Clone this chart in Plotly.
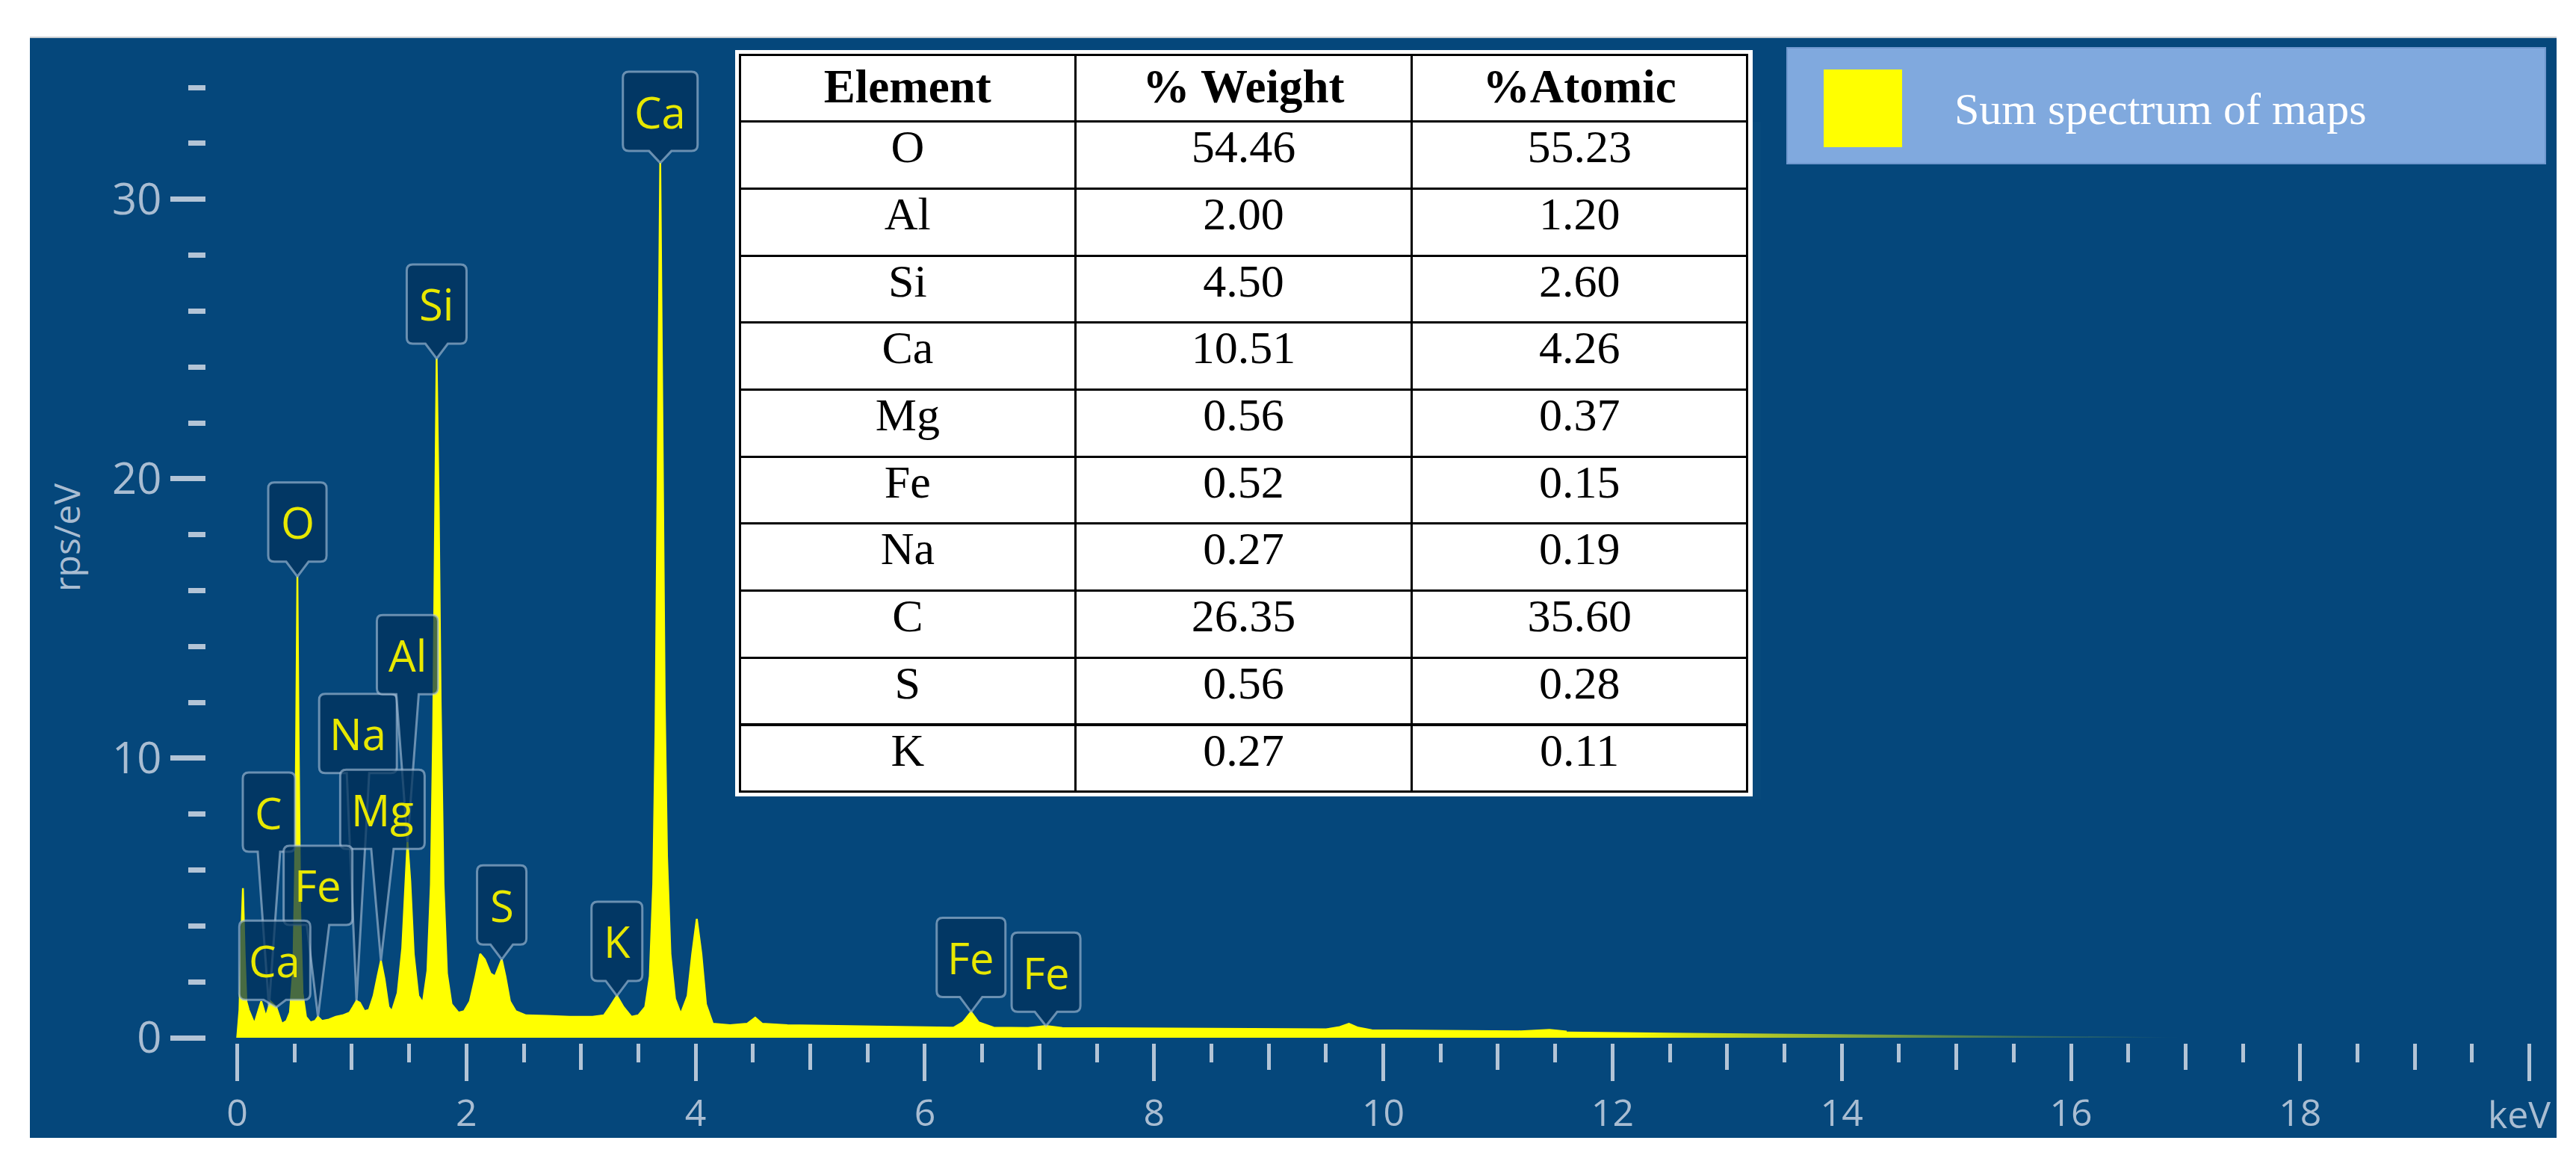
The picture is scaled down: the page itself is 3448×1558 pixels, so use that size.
import numpy as np
import plotly.graph_objects as go

# ---------------- data ----------------
energy_kev = [0.00, 0.02, 0.035, 0.05, 0.065, 0.08, 0.10, 0.15, 0.18, 0.21,
              0.25, 0.29, 0.34, 0.39, 0.43, 0.46, 0.49, 0.505, 0.515, 0.525,
              0.535, 0.55, 0.57, 0.60, 0.64, 0.68, 0.705, 0.74, 0.80, 0.86,
              0.92, 0.98, 1.01, 1.041, 1.07, 1.11, 1.15, 1.19, 1.225, 1.254,
              1.285, 1.32, 1.35, 1.40, 1.44, 1.47, 1.486, 1.51, 1.54, 1.58,
              1.62, 1.66, 1.69, 1.71, 1.725, 1.740, 1.758, 1.775, 1.80, 1.83,
              1.87, 1.93, 1.98, 2.03, 2.08, 2.12, 2.16, 2.21, 2.25, 2.29,
              2.308, 2.34, 2.38, 2.43, 2.52, 2.70, 2.90, 3.10, 3.20, 3.25,
              3.313, 3.37, 3.44, 3.50, 3.56, 3.60, 3.63, 3.65, 3.67, 3.691,
              3.71, 3.73, 3.75, 3.78, 3.82, 3.87, 3.93, 3.97, 4.01, 4.05,
              4.09, 4.15, 4.30, 4.45, 4.52, 4.58, 4.80, 5.20, 5.60, 6.00,
              6.25, 6.33, 6.403, 6.47, 6.60, 6.90, 7.057, 7.20, 7.60, 8.00,
              8.50, 9.00, 9.50, 9.62, 9.70, 9.78, 9.90, 10.50, 11.20, 11.45,
              11.60, 12.50, 13.50, 14.50, 15.50, 16.50, 17.00]
rps_per_ev = [0.0, 1.0, 3.5, 5.35, 3.0, 1.3, 1.0, 0.5, 0.9, 1.3,
              0.75, 1.3, 1.1, 0.5, 0.6, 0.9, 2.5, 6.0, 11.0, 16.5,
              11.0, 4.5, 1.6, 0.75, 0.55, 0.6, 0.75, 0.6, 0.65, 0.75,
              0.8, 0.9, 1.1, 1.32, 1.25, 0.95, 1.0, 1.5, 2.2, 2.75,
              2.1, 1.1, 0.95, 1.6, 3.2, 5.8, 7.0, 5.6, 3.0, 1.5,
              1.25, 2.4, 5.5, 11.0, 18.0, 24.3, 19.0, 12.0, 5.5, 2.3,
              1.2, 0.9, 0.95, 1.3, 2.2, 3.0, 2.8, 2.3, 2.2, 2.6,
              2.8, 2.2, 1.3, 0.95, 0.8, 0.78, 0.75, 0.75, 0.8, 1.1,
              1.5, 1.1, 0.75, 0.8, 1.1, 2.2, 5.5, 11.0, 20.0, 31.3,
              22.0, 12.0, 6.5, 3.0, 1.4, 0.85, 1.5, 3.0, 4.25, 3.0,
              1.2, 0.5, 0.45, 0.5, 0.72, 0.5, 0.45, 0.42, 0.40, 0.36,
              0.36, 0.55, 0.92, 0.55, 0.36, 0.35, 0.42, 0.35, 0.34, 0.33,
              0.32, 0.31, 0.30, 0.38, 0.50, 0.36, 0.27, 0.25, 0.23, 0.28,
              0.22, 0.18, 0.14, 0.10, 0.07, 0.04, 0.0]
assert len(energy_kev) == len(rps_per_ev)

callout_elements = ["C", "Na", "Al", "Mg", "Fe", "Ca", "O", "Si", "S", "K", "Ca", "Fe", "Fe"]
callout_energies = [0.277, 1.041, 1.486, 1.254, 0.705, 0.341, 0.525, 1.740, 2.308, 3.313, 3.691, 6.403, 7.057]

table_elements = ["O", "Al", "Si", "Ca", "Mg", "Fe", "Na", "C", "S", "K"]
weight_pct = [54.46, 2.00, 4.50, 10.51, 0.56, 0.52, 0.27, 26.35, 0.56, 0.27]
atomic_pct = [55.23, 1.20, 2.60, 4.26, 0.37, 0.15, 0.19, 35.60, 0.28, 0.11]
table_headers = ["Element", "% Weight", "%Atomic"]

x_major_ticks = [0, 2, 4, 6, 8, 10, 12, 14, 16, 18, 20]
x_tick_text = ["0", "2", "4", "6", "8", "10", "12", "14", "16", "18", ""]
y_major_ticks = [0, 10, 20, 30]
x_unit_label = "keV"
y_title = "rps/eV"
legend_label = "Sum spectrum of maps"

# ---------------- layout / style (pixels) ----------------
W, H = 3448, 1558
ML, MR, MT, MB = 268, 55, 53, 170
PW, PH = W - ML - MR, H - MT - MB
X_RANGE = [-0.2705, 20.1]
Y_RANGE = [-0.187, 35.5]
TAIL_START = 11.45   # energy where the faded tail of the fill begins

# per-callout (dx, dy above tip, box width) in px, same order as callout_elements
callout_layout = [(0, 207, 70), (2, 305, 104), (0, 198, 82), (2, 150, 113), (0, 123, 92),
                  (-2, 10, 95), (0, 20, 78), (0, 20, 80), (0, 20, 66), (0, 20, 68),
                  (0, 16, 100), (0, 20, 92), (0, 19, 92)]
BOX_H, BOX_R, PTR = 106, 8, 15

BG = "#05477b"
TICK = "#b3c4d6"
LABEL = "#a9bdd2"
SANS = "Open Sans"
SERIF = "Liberation Serif"


def fx(px):
    return (px - ML) / PW


def fy(py):
    return (H - MB - py) / PH


e_arr = np.array(energy_kev)
c_arr = np.array(rps_per_ev)
main_idx = e_arr <= 11.60
tail_idx = e_arr >= TAIL_START

fig = go.Figure()

fig.add_trace(go.Scatter(
    x=e_arr[main_idx], y=c_arr[main_idx], mode="lines", fill="tozeroy",
    line=dict(color="#ffff00", width=2.5), fillcolor="#ffff00",
    hoverinfo="skip", showlegend=False))

fig.add_trace(go.Scatter(
    x=e_arr[tail_idx], y=c_arr[tail_idx], mode="lines", fill="tozeroy",
    line=dict(color="rgba(0,0,0,0)", width=0),
    fillgradient=dict(type="horizontal", start=TAIL_START, stop=17,
                      colorscale=[[0, "rgb(255,255,0)"], [0.12, "rgb(255,255,0)"],
                                  [0.55, "rgba(215,230,20,0.5)"], [1, "rgba(150,190,60,0.0)"]]),
    hoverinfo="skip", showlegend=False))

# helper trace for the 1-keV intermediate ticks axis
fig.add_trace(go.Scatter(x=energy_kev[:1], y=rps_per_ev[:1], xaxis="x2", yaxis="y",
                         mode="markers", marker=dict(opacity=0), hoverinfo="skip",
                         showlegend=False))

fig.add_trace(go.Table(
    domain=dict(x=[fx(982), fx(2332)], y=[fy(1062), fy(65)]),
    columnwidth=[1, 1, 1],
    header=dict(values=["<b>%s</b>" % h for h in table_headers],
                fill_color="white", line=dict(color="black", width=3), align="center",
                font=dict(family=SERIF, size=63, color="black"), height=89.7),
    cells=dict(values=[table_elements,
                       ["%.2f" % v for v in weight_pct],
                       ["%.2f" % v for v in atomic_pct]],
               fill_color="white", line=dict(color="black", width=3), align="center",
               font=dict(family=SERIF, size=62, color="black"), height=89.7)))

shapes = [
    dict(type="rect", xref="paper", yref="paper", x0=fx(32), x1=fx(3414), y0=fy(1515), y1=fy(43),
         fillcolor=BG, line=dict(width=0), layer="below"),
    dict(type="line", xref="paper", yref="paper", x0=fx(32), x1=fx(3414), y0=fy(42), y1=fy(42),
         line=dict(color="#c8ccd0", width=2), layer="below"),
    dict(type="rect", xref="paper", yref="paper", x0=fx(976), x1=fx(2338), y0=fy(1058), y1=fy(59),
         fillcolor="white", line=dict(width=0), layer="below"),
    # legend
    dict(type="rect", xref="paper", yref="paper", x0=fx(2384), x1=fx(3399), y0=fy(211), y1=fy(56),
         fillcolor="#80a9de", line=dict(color="#6f98cf", width=2), layer="above"),
    dict(type="rect", xref="paper", yref="paper", x0=fx(2433), x1=fx(2538), y0=fy(189), y1=fy(85),
         fillcolor="#ffff00", line=dict(width=0), layer="above"),
]

annotations = [
    dict(xref="paper", yref="paper", x=fx(2606), y=fy(138), xanchor="left", yanchor="middle",
         text=legend_label, showarrow=False, font=dict(family=SERIF, size=60, color="white")),
    dict(xref="paper", yref="paper", x=fx(80), y=fy(712), xanchor="center", yanchor="middle",
         text=y_title, textangle=-90, showarrow=False, font=dict(family=SANS, size=48, color=LABEL)),
    dict(xref="x", yref="paper", x=20, y=fy(1483), xanchor="right", yanchor="middle", xshift=30,
         text=x_unit_label, showarrow=False, font=dict(family=SANS, size=50, color=LABEL)),
]

for el, e, (dx, dy, w) in zip(callout_elements, callout_energies, callout_layout):
    tip = float(np.interp(e, energy_kev, rps_per_ev))
    L, R, b, t, r = dx - w / 2, dx + w / 2, dy, dy + BOX_H, BOX_R
    path = (f"M {dx + PTR},{b} L {R - r},{b} Q {R},{b} {R},{b + r} L {R},{t - r} "
            f"Q {R},{t} {R - r},{t} L {L + r},{t} Q {L},{t} {L},{t - r} L {L},{b + r} "
            f"Q {L},{b} {L + r},{b} L {dx - PTR},{b} L 0,0 Z")
    shapes.append(dict(type="path", xref="x", yref="y", xsizemode="pixel", ysizemode="pixel",
                       xanchor=e, yanchor=tip, path=path,
                       fillcolor="rgba(2,50,92,0.72)",
                       line=dict(color="rgba(175,198,222,0.6)", width=3), layer="above"))
    annotations.append(dict(xref="x", yref="y", x=e, y=tip, xshift=dx, yshift=dy + BOX_H / 2,
                            xanchor="center", yanchor="middle", text=el, showarrow=False,
                            font=dict(family=SANS, size=58, color="#e8e800")))

fig.update_layout(
    width=W, height=H,
    margin=dict(l=ML, r=MR, t=MT, b=MB, autoexpand=False),
    paper_bgcolor="white", plot_bgcolor="rgba(0,0,0,0)",
    showlegend=False,
    xaxis=dict(range=X_RANGE, showgrid=False, zeroline=False, showline=False,
               ticks="outside", tickmode="array", tickvals=x_major_ticks, ticktext=x_tick_text,
               ticklen=50, tickwidth=5, tickcolor=TICK,
               tickfont=dict(family=SANS, size=50, color=LABEL),
               minor=dict(ticks="outside", dtick=0.5, tick0=0, ticklen=25, tickwidth=5,
                          tickcolor=TICK, showgrid=False)),
    xaxis2=dict(range=X_RANGE, overlaying="x", anchor="y", side="bottom", showgrid=False,
                zeroline=False, showline=False, ticks="outside", tickmode="linear", tick0=0,
                dtick=1, ticklen=35, tickwidth=5, tickcolor=TICK, showticklabels=False),
    yaxis=dict(range=Y_RANGE, showgrid=False, zeroline=False, showline=False,
               ticks="outside", tickmode="array", tickvals=y_major_ticks,
               ticklen=47, tickwidth=7, tickcolor=TICK,
               tickfont=dict(family=SANS, size=58, color=LABEL),
               minor=dict(ticks="outside", dtick=2, tick0=0, ticklen=23, tickwidth=7,
                          tickcolor=TICK, showgrid=False)),
    shapes=shapes,
    annotations=annotations,
)

fig.write_html("out.html", config=dict(displayModeBar=False))
